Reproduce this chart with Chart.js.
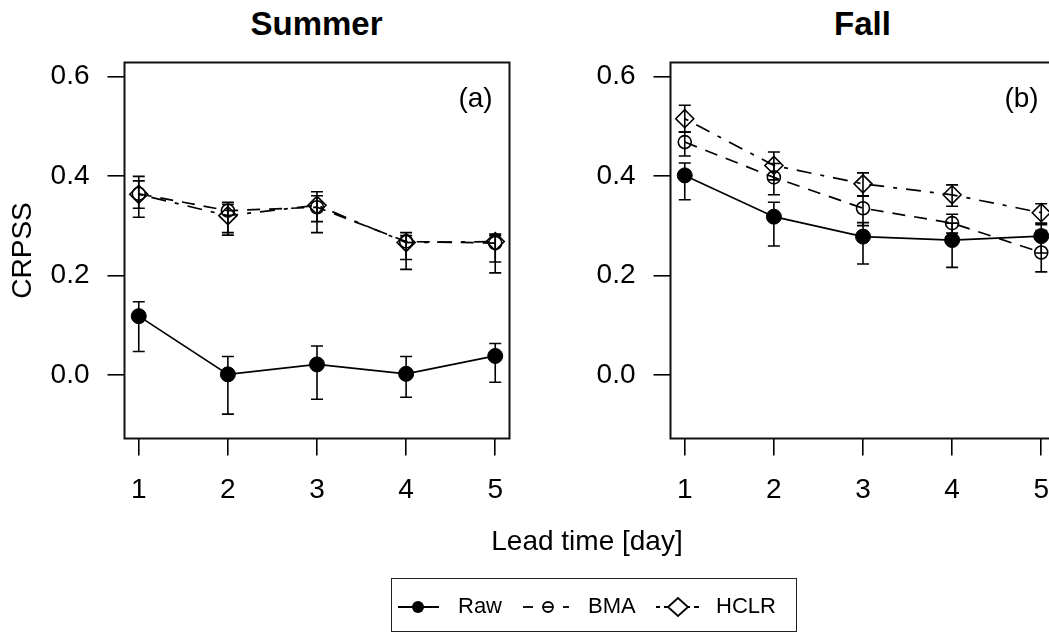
<!DOCTYPE html>
<html>
<head>
<meta charset="utf-8">
<script src="https://cdn.jsdelivr.net/npm/chart.js@4.4.1/dist/chart.umd.min.js"></script>
<style>
  html, body { margin: 0; padding: 0; background: #fff; }
  body { width: 1049px; height: 633px; overflow: hidden; position: relative;
         font-family: "Liberation Sans", Arial, sans-serif; color: #000; }
  canvas.panel { position: absolute; top: 0; }
  .ptitle { position: absolute; top: 4px; width: 385px; text-align: center;
            font-weight: bold; font-size: 33px; line-height: 40px; }
  #xlab { position: absolute; left: 387px; width: 400px; top: 524px; text-align: center;
          font-size: 28px; line-height: 34px; }
  #legend { position: absolute; left: 391px; top: 578px; width: 404px; height: 52px;
            border: 1.5px solid #222; }
  #legend canvas { position: absolute; left: 0; top: 0; }
  #legend span { position: absolute; top: 14px; font-size: 22px; line-height: 26px; }
</style>
</head>
<body>

<div class="ptitle" style="left:124px">Summer</div>
<div class="ptitle" style="left:670px">Fall</div>
<canvas id="summer" class="panel" width="540" height="633" style="left:0"></canvas>
<canvas id="fall" class="panel" width="540" height="633" style="left:546px"></canvas>
<div id="xlab">Lead time [day]</div>
<div id="legend">
  <canvas id="legendMarks" width="404" height="52"></canvas>
  <span style="left:66px">Raw</span>
  <span style="left:196px">BMA</span>
  <span style="left:324px">HCLR</span>
</div>

<script>
// lead time (days) and y ticks
var leadDays = [1, 2, 3, 4, 5];
var yTicks = [0, 0.2, 0.4, 0.6];

// Summer (a)
var summerRaw   = [0.118, 0.001, 0.021, 0.002, 0.038];
var summerRawLo = [0.047, -0.079, -0.049, -0.045, -0.015];
var summerRawHi = [0.147, 0.037, 0.058, 0.037, 0.063];
var summerBMA   = [0.364, 0.330, 0.337, 0.268, 0.265];
var summerBMALo = [0.335, 0.286, 0.308, 0.232, 0.227];
var summerBMAHi = [0.390, 0.347, 0.360, 0.286, 0.283];
var summerHCLR   = [0.363, 0.320, 0.341, 0.266, 0.268];
var summerHCLRLo = [0.317, 0.281, 0.286, 0.212, 0.205];
var summerHCLRHi = [0.399, 0.343, 0.368, 0.280, 0.280];

// Fall (b)
var fallRaw   = [0.401, 0.318, 0.278, 0.271, 0.279];
var fallRawLo = [0.352, 0.259, 0.223, 0.216, 0.245];
var fallRawHi = [0.426, 0.347, 0.306, 0.305, 0.302];
var fallBMA   = [0.468, 0.397, 0.335, 0.305, 0.246];
var fallBMALo = [0.440, 0.362, 0.300, 0.285, 0.207];
var fallBMAHi = [0.488, 0.425, 0.359, 0.323, 0.290];
var fallHCLR   = [0.515, 0.421, 0.384, 0.362, 0.326];
var fallHCLRLo = [0.488, 0.392, 0.360, 0.339, 0.305];
var fallHCLRHi = [0.542, 0.448, 0.406, 0.382, 0.344];

var FONT = "'Liberation Sans', Arial, sans-serif";
var rawDash = [], bmaDash = [13, 9], hclrDash = [4, 9, 15, 9];

function pts(vals) {
  return leadDays.map(function (d, i) { return { x: d, y: vals[i] }; });
}

// whiskers + frame + panel tag
var panelExtras = {
  id: 'panelExtras',
  beforeDatasetsDraw: function (chart) {
    var ctx = chart.ctx, x = chart.scales.x, y = chart.scales.y;
    ctx.save();
    ctx.strokeStyle = '#000';
    ctx.lineWidth = 1.6;
    chart.data.datasets.forEach(function (ds) {
      ds.data.forEach(function (p, i) {
        var px = x.getPixelForValue(p.x);
        var lo = y.getPixelForValue(ds.lo[i]);
        var hi = y.getPixelForValue(ds.hi[i]);
        ctx.beginPath();
        ctx.moveTo(px, lo); ctx.lineTo(px, hi);
        ctx.moveTo(px - 6, lo); ctx.lineTo(px + 6, lo);
        ctx.moveTo(px - 6, hi); ctx.lineTo(px + 6, hi);
        ctx.stroke();
      });
    });
    ctx.restore();
  },
  afterDraw: function (chart, args, opts) {
    var ctx = chart.ctx, a = chart.chartArea;
    ctx.save();
    ctx.strokeStyle = '#111';
    ctx.lineWidth = 2;
    ctx.strokeRect(a.left, a.top, a.right - a.left, a.bottom - a.top);
    ctx.fillStyle = '#000';
    ctx.font = '28px ' + FONT;
    ctx.textAlign = 'center';
    ctx.textBaseline = 'middle';
    ctx.fillText(opts.tag, a.right - 34, a.top + 37);
    ctx.restore();
  }
};

function makePanel(id, tag, showYTitle, raw, rawLo, rawHi, bma, bmaLo, bmaHi, hclr, hclrLo, hclrHi) {
  var ctx = document.getElementById(id).getContext('2d');
  return new Chart(ctx, {
    type: 'line',
    data: {
      datasets: [{
        label: 'Raw', data: pts(raw), lo: rawLo, hi: rawHi,
        borderColor: '#000', borderWidth: 1.7, borderDash: rawDash,
        pointStyle: 'circle', pointRadius: 7.5, pointBorderWidth: 1,
        pointBackgroundColor: '#000', pointBorderColor: '#000'
      }, {
        label: 'BMA', data: pts(bma), lo: bmaLo, hi: bmaHi,
        borderColor: '#000', borderWidth: 1.7, borderDash: bmaDash,
        pointStyle: 'circle', pointRadius: 6.5, pointBorderWidth: 1.6,
        pointBackgroundColor: 'rgba(0,0,0,0)', pointBorderColor: '#000'
      }, {
        label: 'HCLR', data: pts(hclr), lo: hclrLo, hi: hclrHi,
        borderColor: '#000', borderWidth: 1.7, borderDash: hclrDash,
        pointStyle: 'rectRot', pointRadius: 9, pointBorderWidth: 1.6,
        pointBackgroundColor: 'rgba(0,0,0,0)', pointBorderColor: '#000'
      }]
    },
    options: {
      responsive: false,
      animation: false,
      layout: { padding: { top: 62.5, right: 30.5, left: 0, bottom: 0 } },
      plugins: {
        legend: { display: false },
        tooltip: { enabled: false },
        panelExtras: { tag: tag }
      },
      scales: {
        x: {
          type: 'linear', min: 0.84, max: 5.16,
          afterBuildTicks: function (s) { s.ticks = leadDays.map(function (v) { return { value: v }; }); },
          afterFit: function (s) { s.height = 633 - 438.5; },
          border: { display: false },
          grid: { drawOnChartArea: false, drawTicks: true, tickLength: 17, color: '#000', lineWidth: 1.6 },
          ticks: { color: '#000', font: { family: FONT, size: 28 }, padding: 18, maxRotation: 0, autoSkip: false }
        },
        y: {
          type: 'linear', min: -0.128, max: 0.628,
          afterBuildTicks: function (s) { s.ticks = yTicks.map(function (v) { return { value: v }; }); },
          afterFit: function (s) { s.width = 124.5; },
          border: { display: false },
          grid: { drawOnChartArea: false, drawTicks: true, tickLength: 17, color: '#000', lineWidth: 1.6 },
          ticks: {
            color: '#000', font: { family: FONT, size: 28 }, padding: 18, autoSkip: false,
            callback: function (v) { return Number(v).toFixed(1); }
          },
          title: {
            display: showYTitle, text: 'CRPSS', color: '#000',
            font: { family: FONT, size: 28 }, padding: { top: 6, bottom: 0 }
          }
        }
      }
    },
    plugins: [panelExtras]
  });
}

makePanel('summer', '(a)', true, summerRaw, summerRawLo, summerRawHi,
  summerBMA, summerBMALo, summerBMAHi, summerHCLR, summerHCLRLo, summerHCLRHi);
makePanel('fall', '(b)', false, fallRaw, fallRawLo, fallRawHi,
  fallBMA, fallBMALo, fallBMAHi, fallHCLR, fallHCLRLo, fallHCLRHi);

// legend samples (line + marker)
(function () {
  var c = document.getElementById('legendMarks').getContext('2d');
  var cy = 28;
  c.strokeStyle = '#000';
  c.lineWidth = 1.8;
  function seg(x0, x1, dash) {
    c.setLineDash(dash);
    c.beginPath(); c.moveTo(x0, cy); c.lineTo(x1, cy); c.stroke();
    c.setLineDash([]);
  }
  seg(6, 47, rawDash);
  c.beginPath(); c.arc(26, cy, 6, 0, Math.PI * 2); c.fillStyle = '#000'; c.fill();

  seg(131, 177, [10, 10]);
  c.beginPath(); c.arc(156, cy, 5, 0, Math.PI * 2); c.stroke();

  seg(264, 307, [4, 4, 8, 14]);
  c.beginPath();
  c.moveTo(276, cy); c.lineTo(286, cy - 9); c.lineTo(296, cy); c.lineTo(286, cy + 9); c.closePath();
  c.fillStyle = '#fff'; c.fill();
  c.stroke();
})();
</script>
</body>
</html>
